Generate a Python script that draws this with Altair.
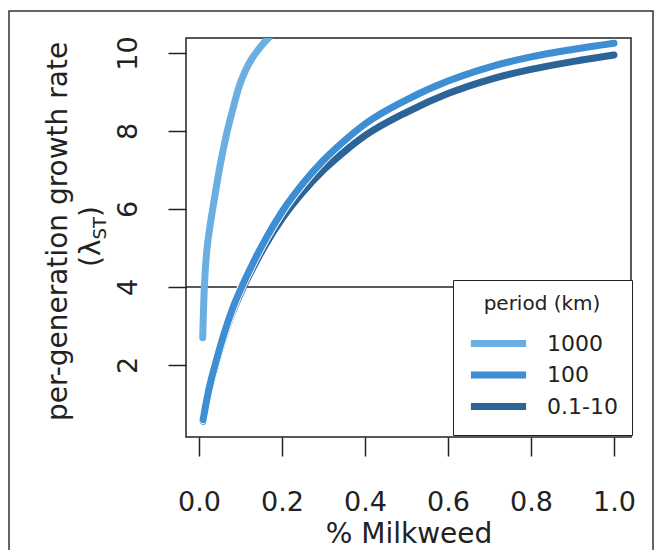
import altair as alt
import pandas as pd

# ---- data ----
x_1000 = [0.009, 0.0105, 0.0125, 0.015, 0.019, 0.025, 0.033, 0.040, 0.048, 0.057, 0.066, 0.080, 0.097, 0.112, 0.127, 0.150, 0.175]
y_1000 = [2.70, 3.30, 3.90, 4.40, 4.95, 5.45, 6.00, 6.45, 6.95, 7.45, 7.90, 8.50, 9.15, 9.55, 9.85, 10.18, 10.47]

x_main = [0.01, 0.02, 0.03, 0.04, 0.06, 0.08, 0.105, 0.13, 0.16, 0.20, 0.25, 0.30, 0.35, 0.40, 0.50, 0.60, 0.70, 0.80, 0.90, 1.00]
y_100 = [0.60, 1.18, 1.65, 2.05, 2.79, 3.42, 4.05, 4.61, 5.22, 5.93, 6.65, 7.25, 7.75, 8.18, 8.80, 9.28, 9.64, 9.90, 10.09, 10.25]
y_01_10 = [0.56, 1.13, 1.59, 1.98, 2.71, 3.33, 3.95, 4.49, 5.08, 5.75, 6.43, 7.00, 7.47, 7.88, 8.48, 8.96, 9.32, 9.58, 9.78, 9.95]

series_names = ["1000", "100", "0.1-10"]
series_colors = ["#6aaee2", "#3d8ed3", "#2c6497"]
x_ticks = [0.0, 0.2, 0.4, 0.6, 0.8, 1.0]
y_ticks = [2, 4, 6, 8, 10]
threshold = [4]

df = pd.concat([
    pd.DataFrame({"x": x_1000, "y": y_1000, "period": "1000"}),
    pd.DataFrame({"x": x_main, "y": y_100, "period": "100"}),
    pd.DataFrame({"x": x_main, "y": y_01_10, "period": "0.1-10"}),
], ignore_index=True)

FONT = "DejaVu Sans"
TXT = "#222222"

xs = alt.Scale(domain=[-0.0313, 1.041], nice=False, zero=False)
ys = alt.Scale(domain=[0.154, 10.385], nice=False, zero=False)

x_enc = alt.X("x:Q", scale=xs, axis=alt.Axis(
    values=x_ticks, format=".1f", title="% Milkweed", labelAngle=0,
    labelBaseline="alphabetic", labelPadding=54, tickSize=19, labelFlush=False,
    titleBaseline="alphabetic", titleY=105))
y_enc = alt.Y("y:Q", scale=ys, axis=alt.Axis(
    values=y_ticks, format="d", title="per-generation growth rate",
    labelAngle=270, labelAlign="center", labelBaseline="alphabetic",
    labelPadding=32, tickSize=18, labelFlush=False,
    titleAngle=270, titleAlign="center", titleBaseline="alphabetic",
    titleX=-119.5, titleY=193))

legend = alt.Legend(title="period (km)")
color_enc = alt.Color("period:N", scale=alt.Scale(domain=series_names, range=series_colors), legend=legend)

one = pd.DataFrame({"a": [0]})

frame = alt.Chart(one).mark_rect(fill="transparent", stroke="#333333", strokeWidth=1.5).encode(
    x=alt.value(-177), x2=alt.value(467), y=alt.value(-27), y2=alt.value(540))

rule = alt.Chart(pd.DataFrame({"y": threshold})).mark_rule(color=TXT, strokeWidth=1.3).encode(y=y_enc)

def line_layer(name, width=7):
    return alt.Chart(df[df.period == name]).mark_line(
        strokeWidth=width, strokeCap="round", strokeJoin="round", clip=True, interpolate="monotone"
    ).encode(x=x_enc, y=y_enc, color=color_enc)

dark = line_layer("0.1-10")
halo = alt.Chart(df[df.period == "100"]).mark_line(
    strokeWidth=8.8, strokeCap="round", strokeJoin="round", clip=True, interpolate="monotone", color="white"
).encode(x=x_enc, y=y_enc)
mid = line_layer("100")
light = line_layer("1000")

def txt(s, x, y, size):
    return alt.Chart(one).mark_text(
        text=s, angle=270, align="left", baseline="alphabetic", font=FONT, fontSize=size, color=TXT
    ).encode(x=alt.value(x), y=alt.value(y))

sub_title = txt("(λ", -86, 229, 28) + txt("ST", -80.5, 201.5, 18) + txt(")", -86, 179.1, 28)

chart = alt.layer(frame, rule, dark, halo, mid, light, sub_title).properties(
    width=445, height=399,
    autosize=alt.AutoSizeParams(type="none"),
    padding={"left": 178, "top": 30, "right": 23, "bottom": 113},
).configure_view(
    stroke=TXT, strokeWidth=1.5
).configure_axis(
    domain=False, grid=False, tickColor=TXT, tickWidth=1.5,
    labelFont=FONT, labelFontSize=27, labelColor=TXT,
    titleFont=FONT, titleFontSize=28, titleColor=TXT, titleFontWeight="normal"
).configure_legend(
    orient="none", legendX=267, legendY=242, fillColor="white", strokeColor=TXT,
    padding=14, titleFont=FONT, titleFontSize=20, titleFontWeight="normal", titleColor=TXT,
    titleAnchor="middle", titleAlign="center", titlePadding=14,
    labelFont=FONT, labelFontSize=22, labelColor=TXT,
    symbolType="M-2.3,0H2.3", symbolSize=576, symbolStrokeWidth=7,
    symbolOffset=16, labelOffset=33, rowPadding=1.5
)

chart.save("out.html", embed_options={"renderer": "svg", "actions": False})
